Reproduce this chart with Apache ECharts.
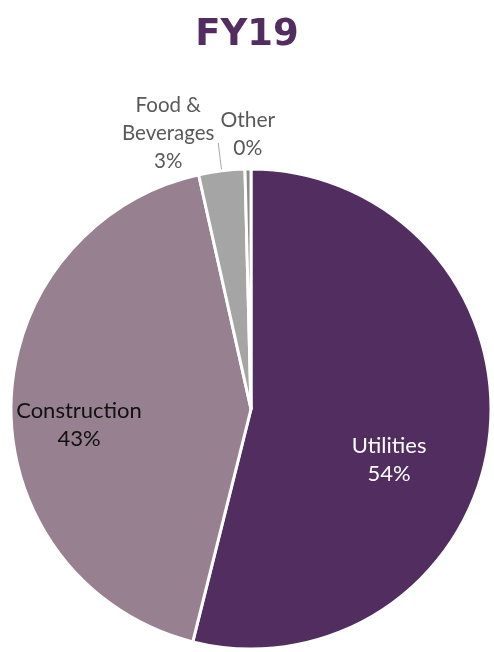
<!DOCTYPE html>
<html>
<head>
<meta charset="utf-8">
<script src="https://cdn.jsdelivr.net/npm/echarts@6/dist/echarts.min.js"></script>
<style>html,body{margin:0;padding:0;background:#fff;}#c{width:494px;height:652px;}</style>
</head>
<body>
<div id="c"></div>
<script>
const titleText = 'FY19';
const categories = ['Utilities', 'Construction', 'Food &\nBeverages', 'Other'];
const shares = [53.9, 42.6, 3.1, 0.4];
const colors = ['#522D60', '#97808F', '#A5A5A5', '#8C8C8C'];

const chart = echarts.init(document.getElementById('c'), null, {renderer: 'canvas'});
const labelFont = 'Lato, "Open Sans", sans-serif';

const labelCfg = [
  {position: 'inside', color: '#FFFFFF', fontSize: 22, offset: [16, 36]},
  {position: 'inside', color: '#111111', fontSize: 22, offset: [-49, 17]},
  {position: 'outside', color: '#595959', fontSize: 20.5},
  {position: 'outside', color: '#595959', fontSize: 21}
];
const outsideShift = {2: [-45, -10], 3: [5, -25]};

const data = categories.map((name, i) => ({
  name: name,
  value: shares[i],
  itemStyle: {color: colors[i]},
  label: Object.assign({}, labelCfg[i]),
  labelLine: i === 2 ? {show: true, length: 28, length2: 0, lineStyle: {color: '#A6A6A6', width: 1}}
           : i === 3 ? {show: false, length: 10, length2: 0} : {show: false}
}));

chart.setOption({
  animation: false,
  title: {
    text: titleText,
    left: 'center',
    top: 12,
    textStyle: {fontFamily: '"DejaVu Sans"', fontWeight: 'bold', fontSize: 37, color: '#522D60'}
  },
  series: [{
    type: 'pie',
    center: [251, 409],
    radius: 240,
    startAngle: 90,
    clockwise: true,
    avoidLabelOverlap: false,
    itemStyle: {borderColor: '#FFFFFF', borderWidth: 3},
    label: {
      fontFamily: labelFont,
      fontSize: 21,
      lineHeight: 28,
      align: 'center',
      formatter: p => p.name + '\n' + Math.round(p.percent) + '%'
    },
    labelLayout: function (p) {
      const s = outsideShift[p.dataIndex];
      if (!s) return {};
      return {align: 'center', dx: s[0], dy: s[1], labelLinePoints: p.labelLinePoints};
    },
    emphasis: {disabled: true},
    data: data
  }]
});
</script>
</body>
</html>
